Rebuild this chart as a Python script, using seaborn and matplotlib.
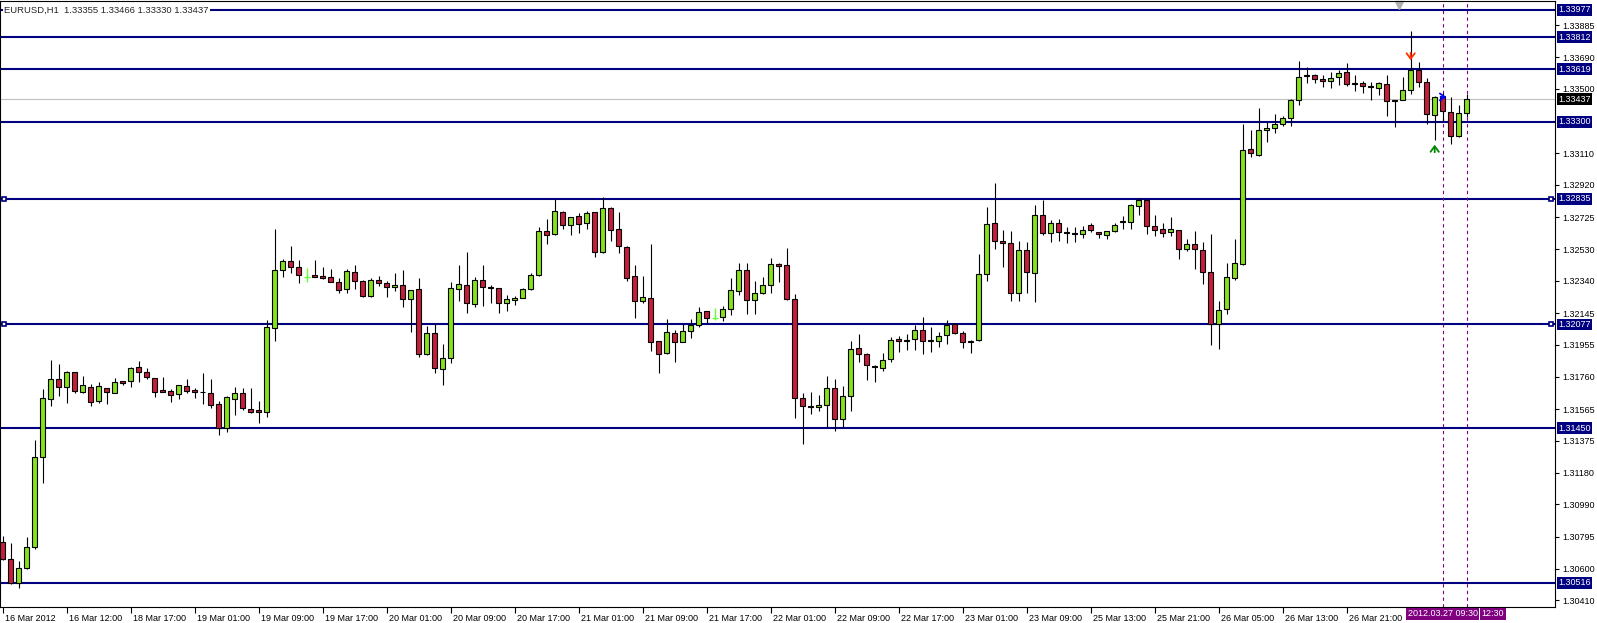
import numpy as np
import pandas as pd
import matplotlib
matplotlib.use('Agg')
import matplotlib.pyplot as plt
import matplotlib.transforms as mtransforms
import seaborn as sns

# EURUSD H1 bars (oldest first)
opens = [1.30763, 1.30657, 1.30512, 1.30602, 1.30729, 1.31273, 1.31624, 1.31744, 1.31696, 1.31787,
         1.31670, 1.31700, 1.31611, 1.31694, 1.31664, 1.31732, 1.31732, 1.31817, 1.31791, 1.31754,
         1.31680, 1.31676, 1.31654, 1.31702, 1.31680, 1.31670, 1.31662, 1.31593, 1.31448, 1.31628,
         1.31660, 1.31565, 1.31558, 1.31545, 1.32053, 1.32403, 1.32458, 1.32422, 1.32365, 1.32373,
         1.32371, 1.32361, 1.32331, 1.32289, 1.32393, 1.32339, 1.32250, 1.32345, 1.32325, 1.32301,
         1.32313, 1.32228, 1.32289, 1.31900, 1.32023, 1.31805, 1.31872, 1.32289, 1.32313, 1.32198,
         1.32343, 1.32301, 1.32295, 1.32204, 1.32224, 1.32234, 1.32289, 1.32373, 1.32639, 1.32621,
         1.32754, 1.32675, 1.32730, 1.32687, 1.32754, 1.32512, 1.32778, 1.32651, 1.32542, 1.32367,
         1.32216, 1.32234, 1.31974, 1.31902, 1.32023, 1.31968, 1.32035, 1.32071, 1.32156, 1.32113,
         1.32119, 1.32168, 1.32277, 1.32403, 1.32222, 1.32264, 1.32313, 1.32440, 1.32434, 1.32228,
         1.31630, 1.31584, 1.31580, 1.31588, 1.31690, 1.31503, 1.31642, 1.31932, 1.31896, 1.31823,
         1.31811, 1.31866, 1.31986, 1.31980, 1.31986, 1.32041, 1.31974, 1.31974, 1.32011, 1.32077,
         1.32023, 1.31968, 1.31980, 1.32383, 1.32687, 1.32579, 1.32567, 1.32264, 1.32524, 1.32385,
         1.32736, 1.32627, 1.32687, 1.32633, 1.32629, 1.32621, 1.32675, 1.32633, 1.32615, 1.32639,
         1.32693, 1.32693, 1.32790, 1.32826, 1.32669, 1.32651, 1.32633, 1.32645, 1.32530, 1.32561,
         1.32524, 1.32391, 1.32077, 1.32168, 1.32355, 1.32440, 1.33135, 1.33098, 1.33249, 1.33261,
         1.33286, 1.33322, 1.33431, 1.33576, 1.33582, 1.33558, 1.33546, 1.33570, 1.33600, 1.33535,
         1.33533, 1.33515, 1.33503, 1.33527, 1.33431, 1.33431, 1.33491, 1.33612, 1.33539, 1.33340,
         1.33455, 1.33358, 1.33213, 1.33355]
highs = [1.30798, 1.30753, 1.30647, 1.30790, 1.31378, 1.31684, 1.31861, 1.31837, 1.31797, 1.31791,
         1.31765, 1.31716, 1.31726, 1.31694, 1.31750, 1.31732, 1.31821, 1.31857, 1.31811, 1.31754,
         1.31756, 1.31684, 1.31708, 1.31744, 1.31694, 1.31783, 1.31746, 1.31613, 1.31644, 1.31696,
         1.31690, 1.31690, 1.31614, 1.32103, 1.32653, 1.32470, 1.32550, 1.32466, 1.32418, 1.32464,
         1.32424, 1.32412, 1.32357, 1.32409, 1.32436, 1.32345, 1.32355, 1.32369, 1.32339, 1.32387,
         1.32405, 1.32283, 1.32357, 1.32069, 1.32083, 1.31958, 1.32333, 1.32436, 1.32514, 1.32363,
         1.32436, 1.32315, 1.32295, 1.32254, 1.32248, 1.32299, 1.32389, 1.32667, 1.32712, 1.32832,
         1.32762, 1.32724, 1.32748, 1.32762, 1.32754, 1.32845, 1.32784, 1.32756, 1.32548, 1.32436,
         1.32367, 1.32563, 1.31974, 1.32109, 1.32041, 1.32081, 1.32107, 1.32182, 1.32156, 1.32174,
         1.32186, 1.32355, 1.32446, 1.32446, 1.32339, 1.32361, 1.32476, 1.32446, 1.32536, 1.32258,
         1.31660, 1.31666, 1.31648, 1.31763, 1.31745, 1.31702, 1.31974, 1.32017, 1.31902, 1.31829,
         1.31902, 1.32003, 1.32005, 1.32017, 1.32071, 1.32119, 1.32059, 1.32029, 1.32101, 1.32083,
         1.32035, 1.31980, 1.32500, 1.32784, 1.32929, 1.32647, 1.32641, 1.32579, 1.32573, 1.32796,
         1.32830, 1.32706, 1.32712, 1.32663, 1.32663, 1.32669, 1.32687, 1.32633, 1.32639, 1.32687,
         1.32730, 1.32802, 1.32838, 1.32832, 1.32736, 1.32687, 1.32724, 1.32645, 1.32591, 1.32639,
         1.32573, 1.32621, 1.32216, 1.32446, 1.32591, 1.33286, 1.33249, 1.33382, 1.33298, 1.33346,
         1.33334, 1.33437, 1.33666, 1.33630, 1.33588, 1.33582, 1.33600, 1.33612, 1.33654, 1.33582,
         1.33546, 1.33539, 1.33539, 1.33582, 1.33431, 1.33570, 1.33848, 1.33660, 1.33564, 1.33455,
         1.33473, 1.33451, 1.33401, 1.33466]
lows = [1.30653, 1.30510, 1.30481, 1.30600, 1.30717, 1.31116, 1.31585, 1.31646, 1.31603, 1.31664,
        1.31664, 1.31585, 1.31603, 1.31597, 1.31660, 1.31712, 1.31700, 1.31730, 1.31744, 1.31640,
        1.31666, 1.31609, 1.31628, 1.31660, 1.31634, 1.31593, 1.31571, 1.31410, 1.31424, 1.31531,
        1.31559, 1.31543, 1.31478, 1.31519, 1.31978, 1.32365, 1.32385, 1.32329, 1.32335, 1.32361,
        1.32353, 1.32331, 1.32268, 1.32268, 1.32293, 1.32244, 1.32244, 1.32311, 1.32244, 1.32281,
        1.32184, 1.32033, 1.31882, 1.31892, 1.31785, 1.31713, 1.31845, 1.32220, 1.32144, 1.32184,
        1.32190, 1.32208, 1.32144, 1.32160, 1.32196, 1.32234, 1.32287, 1.32369, 1.32565, 1.32619,
        1.32655, 1.32619, 1.32627, 1.32655, 1.32486, 1.32510, 1.32583, 1.32510, 1.32341, 1.32117,
        1.32208, 1.31918, 1.31781, 1.31896, 1.31848, 1.31968, 1.31993, 1.32059, 1.32087, 1.32101,
        1.32095, 1.32132, 1.32252, 1.32138, 1.32138, 1.32258, 1.32264, 1.32331, 1.32222, 1.31509,
        1.31352, 1.31533, 1.31551, 1.31455, 1.31432, 1.31455, 1.31551, 1.31847, 1.31743, 1.31727,
        1.31793, 1.31847, 1.31908, 1.31920, 1.31920, 1.31896, 1.31908, 1.31938, 1.31956, 1.32017,
        1.31932, 1.31902, 1.31978, 1.32337, 1.32530, 1.32426, 1.32220, 1.32220, 1.32264, 1.32210,
        1.32615, 1.32573, 1.32579, 1.32567, 1.32573, 1.32597, 1.32633, 1.32597, 1.32591, 1.32633,
        1.32651, 1.32651, 1.32736, 1.32621, 1.32609, 1.32603, 1.32609, 1.32470, 1.32518, 1.32409,
        1.32319, 1.31950, 1.31926, 1.32137, 1.32343, 1.32434, 1.33086, 1.33092, 1.33177, 1.33231,
        1.33274, 1.33276, 1.33400, 1.33533, 1.33533, 1.33509, 1.33503, 1.33521, 1.33515, 1.33485,
        1.33473, 1.33431, 1.33461, 1.33334, 1.33268, 1.33431, 1.33467, 1.33509, 1.33286, 1.33189,
        1.33304, 1.33165, 1.33210, 1.33330]
closes = [1.30659, 1.30512, 1.30602, 1.30733, 1.31277, 1.31630, 1.31744, 1.31696, 1.31787, 1.31676,
          1.31708, 1.31605, 1.31702, 1.31670, 1.31726, 1.31724, 1.31811, 1.31787, 1.31756, 1.31670,
          1.31668, 1.31648, 1.31708, 1.31676, 1.31666, 1.31666, 1.31587, 1.31448, 1.31636, 1.31660,
          1.31569, 1.31549, 1.31545, 1.32059, 1.32403, 1.32458, 1.32422, 1.32373, 1.32365, 1.32365,
          1.32359, 1.32335, 1.32283, 1.32397, 1.32337, 1.32246, 1.32343, 1.32325, 1.32305, 1.32313,
          1.32228, 1.32283, 1.31896, 1.32023, 1.31811, 1.31872, 1.32295, 1.32319, 1.32204, 1.32343,
          1.32301, 1.32295, 1.32204, 1.32228, 1.32236, 1.32289, 1.32373, 1.32639, 1.32615, 1.32760,
          1.32675, 1.32724, 1.32681, 1.32748, 1.32512, 1.32778, 1.32645, 1.32548, 1.32359, 1.32216,
          1.32240, 1.31968, 1.31896, 1.32029, 1.31968, 1.32035, 1.32071, 1.32150, 1.32113, 1.32113,
          1.32168, 1.32283, 1.32403, 1.32222, 1.32264, 1.32313, 1.32440, 1.32432, 1.32228, 1.31630,
          1.31582, 1.31580, 1.31588, 1.31690, 1.31503, 1.31642, 1.31926, 1.31896, 1.31829, 1.31817,
          1.31860, 1.31980, 1.31974, 1.31974, 1.32041, 1.31974, 1.31980, 1.32005, 1.32071, 1.32023,
          1.31968, 1.31974, 1.32383, 1.32681, 1.32579, 1.32567, 1.32264, 1.32524, 1.32391, 1.32736,
          1.32627, 1.32687, 1.32633, 1.32629, 1.32625, 1.32645, 1.32645, 1.32621, 1.32639, 1.32675,
          1.32700, 1.32796, 1.32826, 1.32669, 1.32645, 1.32627, 1.32651, 1.32530, 1.32561, 1.32530,
          1.32391, 1.32077, 1.32162, 1.32361, 1.32446, 1.33129, 1.33110, 1.33249, 1.33261, 1.33286,
          1.33322, 1.33431, 1.33570, 1.33582, 1.33558, 1.33546, 1.33564, 1.33594, 1.33527, 1.33531,
          1.33515, 1.33509, 1.33533, 1.33425, 1.33425, 1.33491, 1.33612, 1.33539, 1.33346, 1.33449,
          1.33364, 1.33213, 1.33352, 1.33437]

time_labels = ["16 Mar 2012", "16 Mar 12:00", "18 Mar 17:00", "19 Mar 01:00", "19 Mar 09:00",
               "19 Mar 17:00", "20 Mar 01:00", "20 Mar 09:00", "20 Mar 17:00", "21 Mar 01:00",
               "21 Mar 09:00", "21 Mar 17:00", "22 Mar 01:00", "22 Mar 09:00", "22 Mar 17:00",
               "23 Mar 01:00", "23 Mar 09:00", "25 Mar 13:00", "25 Mar 21:00", "26 Mar 05:00",
               "26 Mar 13:00", "26 Mar 21:00"]
price_ticks = [1.33885, 1.33690, 1.33500, 1.33110, 1.32920, 1.32725, 1.32530, 1.32340, 1.32145,
               1.31955, 1.31760, 1.31565, 1.31375, 1.31180, 1.30990, 1.30795, 1.30600, 1.30410]
level_lines = [1.33977, 1.33812, 1.33619, 1.33300, 1.32835, 1.32077, 1.31450, 1.30516]
selected_levels = [1.32835, 1.32077]
last_price = 1.33437
vline_bars = [180, 183]
vline_label = "2012.03.27 09:30"
vline_label_tail = "12:30"   # visible end of the second, mostly hidden time label
header = "EURUSD,H1  1.33355 1.33466 1.33330 1.33437"

sns.set_style('white')
plt.rcParams['font.family'] = ['Liberation Sans', 'DejaVu Sans']

df = pd.DataFrame({'open': opens, 'high': highs, 'low': lows, 'close': closes})
df['bar'] = np.arange(len(df))
flat = df['open'] == df['close']
bull = df['close'] > df['open']

NAVY = '#000080'
BULL = '#86E01E'
BEAR = '#C41E3A'
PURPLE = '#800080'

fig = plt.figure(figsize=(15.97, 6.23), dpi=100)
ax = fig.add_axes([0, 16 / 623, 1555 / 1597, 606 / 623])
ax.set_xlim(-0.34, 194.04)
ax.set_ylim(1.30369, 1.34031)

# support / resistance lines and current price
for lv in level_lines:
    ax.axhline(lv, color=NAVY, lw=1.5, zorder=1)
ax.axhline(last_price, color='#C0C0C0', lw=0.8, zorder=1)
for lv in selected_levels:
    ax.plot([0.15, 193.6], [lv, lv], ls='none', marker='s', ms=3.5, mfc='white',
            mec=NAVY, mew=1.2, zorder=4, clip_on=False)

# candles
solid = df[~flat]
ax.vlines(solid['bar'], solid['low'], solid['high'], color='black', lw=0.8, zorder=2)
body_lo = solid[['open', 'close']].min(axis=1)
body_hi = solid[['open', 'close']].max(axis=1)
ax.bar(solid['bar'], body_hi - body_lo, bottom=body_lo, width=0.6,
       color=np.where(bull[~flat], BULL, BEAR), edgecolor='black', linewidth=0.8, zorder=3)
doji = df[flat]
ax.vlines(doji['bar'], doji['low'], doji['high'], color='#66FF33', lw=1.0, zorder=2)
ax.hlines(doji['close'], doji['bar'] - 0.4, doji['bar'] + 0.4, color='#66FF33', lw=1.0, zorder=2)

# vertical time lines
for b in vline_bars:
    ax.axvline(b, color=PURPLE, lw=0.8, ls=(0, (3, 3)), zorder=1)

# signal arrows
ax.annotate('', xy=(176, 1.33656), xytext=(176, 1.33735),
            arrowprops=dict(arrowstyle='->,head_width=0.3,head_length=0.4', color='#FF3300', lw=1.3))
ax.annotate('', xy=(179, 1.33179), xytext=(179, 1.33100),
            arrowprops=dict(arrowstyle='->,head_width=0.3,head_length=0.4', color='#008800', lw=1.3))
ax.annotate('', xy=(180.8, 1.33451), xytext=(179.4, 1.33451),
            arrowprops=dict(arrowstyle='->,head_width=0.25,head_length=0.35', color='#0000FF', lw=1.3))

# chart shift marker
ax.plot([174.5], [0.993], marker='v', ms=6, color='#B0B0B0',
        transform=mtransforms.blended_transform_factory(ax.transData, ax.transAxes), clip_on=False)

# header
ax.text(0.2, level_lines[0], header, fontsize=6.8, va='center', ha='left', zorder=6,
        bbox=dict(boxstyle='square,pad=0.1', fc='white', ec='none'))

# right price axis
ax.yaxis.tick_right()
ax.set_yticks(price_ticks)
ax.set_yticklabels([f'{p:.5f}' for p in price_ticks])
ax.tick_params(axis='y', right=True, length=3, width=0.8, labelsize=6.5, pad=2, colors='black')
ytr = mtransforms.blended_transform_factory(ax.transAxes, ax.transData)
for lv in level_lines:
    ax.text(1.0 + 3.5 / 1555, lv, f'{lv:.5f}', transform=ytr, color='white', fontsize=6.5,
            va='center', ha='left', zorder=6, clip_on=False,
            bbox=dict(boxstyle='square,pad=0.15', fc=NAVY, ec='none'))
ax.text(1.0 + 3.5 / 1555, last_price, f'{last_price:.5f}', transform=ytr, color='white',
        fontsize=6.5, va='center', ha='left', zorder=6, clip_on=False,
        bbox=dict(boxstyle='square,pad=0.15', fc='black', ec='none'))

# bottom time axis
ax.set_xticks(np.arange(len(time_labels)) * 8)
ax.set_xticklabels(time_labels, ha='left')
ax.tick_params(axis='x', bottom=True, length=4, width=0.8, labelsize=6.5, pad=1, colors='black')
shift = mtransforms.ScaledTranslation(2 / 72, 0, fig.dpi_scale_trans)
for lab in ax.get_xticklabels():
    lab.set_transform(lab.get_transform() + shift)
xtr = mtransforms.blended_transform_factory(ax.transData, fig.transFigure)
ax.text(vline_bars[0], 9 / 623, vline_label, transform=xtr, color='white', fontsize=6.5,
        ha='center', va='center', clip_on=False, zorder=6,
        bbox=dict(boxstyle='square,pad=0.2', fc=PURPLE, ec='none'))
ax.text(184.85, 9 / 623, vline_label_tail, transform=xtr, color='white', fontsize=6.5,
        ha='left', va='center', clip_on=False, zorder=6,
        bbox=dict(boxstyle='square,pad=0.2', fc=PURPLE, ec='none'))

for sp in ax.spines.values():
    sp.set_color('black')
    sp.set_linewidth(0.8)
ax.grid(False)

fig.savefig('out.png', dpi=100, facecolor='white')
